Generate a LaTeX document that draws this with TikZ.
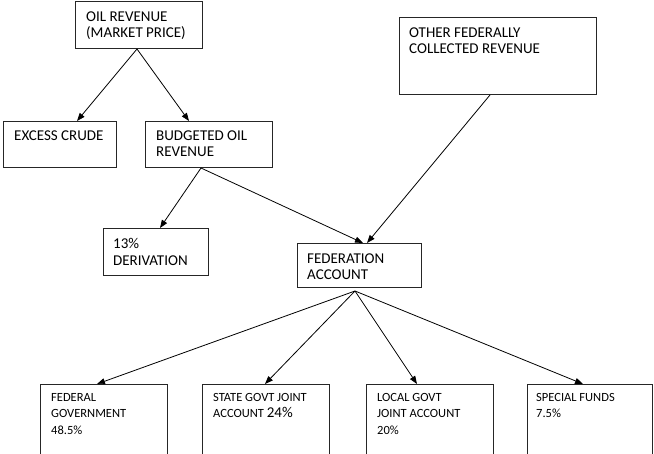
\documentclass[tikz,border=0pt]{standalone}
\usepackage{fontspec}
\setmainfont{Carlito}
\usetikzlibrary{arrows.meta,calc}
\begin{document}
\begin{tikzpicture}[x=1pt,y=-1pt,
  box/.style={draw=black!85, line width=1pt, rectangle, inner sep=0pt, anchor=north west},
  big/.style={font=\fontsize{15}{16.5}\selectfont, align=left, anchor=north west, inner sep=0pt},
  small/.style={font=\fontsize{12.5}{16.5}\selectfont, align=left, anchor=north west, inner sep=0pt},
  arr/.style={draw=black, line width=0.8pt, -{Triangle[length=8pt,width=6pt]}}]
\useasboundingbox (0,0) rectangle (654,454);
\clip (0,0) rectangle (654,454);
% boxes
\node[box, minimum width=127pt, minimum height=47pt] (oil) at (75,1) {};
\node[box, minimum width=113pt, minimum height=46pt] (excess) at (3,121) {};
\node[box, minimum width=127pt, minimum height=46pt] (budget) at (145,121) {};
\node[box, minimum width=197pt, minimum height=77pt] (other) at (399,17) {};
\node[box, minimum width=105pt, minimum height=47pt] (deriv) at (103,228) {};
\node[box, minimum width=124pt, minimum height=44pt] (fedacc) at (297,243) {};
\node[box, minimum width=127pt, minimum height=100pt] (fedgov) at (40,384) {};
\node[box, minimum width=127pt, minimum height=100pt] (state) at (202,384) {};
\node[box, minimum width=127pt, minimum height=100pt] (local) at (366,384) {};
\node[box, minimum width=125pt, minimum height=100pt] (special) at (527,384) {};
% texts
\node[big] (oiltxt) at ($(oil.north west)+(11,10.3)$) {OIL REVENUE\\(MARKET PRICE)};
\node[big] (excesstxt) at ($(excess.north west)+(11,9.3)$) {EXCESS CRUDE};
\node[big] (budgettxt) at ($(budget.north west)+(11,9.3)$) {BUDGETED OIL\\REVENUE};
\node[big] (othertxt) at ($(other.north west)+(10,10.3)$) {OTHER FEDERALLY\\COLLECTED REVENUE};
\node[big] (derivtxt) at ($(deriv.north west)+(10,10.3)$) {13\%\\DERIVATION};
\node[big] (fedacctxt) at ($(fedacc.north west)+(10,10.3)$) {FEDERATION\\ACCOUNT};
\node[small] (fedgovtxt) at ($(fedgov.north west)+(11,9)$) {FEDERAL\\GOVERNMENT\\48.5\%};
\node[small] (statetxt) at ($(state.north west)+(11,9)$) {STATE GOVT JOINT\\ACCOUNT {\fontsize{15}{16.5}\selectfont 24\%}};
\node[small] (localtxt) at ($(local.north west)+(11,9)$) {LOCAL GOVT\\JOINT ACCOUNT\\20\%};
\node[small] (specialtxt) at ($(special.north west)+(9,9)$) {SPECIAL FUNDS\\7.5\%};
% connectors
\draw[arr] ($(oil.south west)+(62,0)$) -- ($(excess.north west)+(74,0)$);
\draw[arr] ($(oil.south west)+(62,0)$) -- ($(budget.north west)+(44,0)$);
\draw[arr] ($(budget.south west)+(56,0)$) -- ($(deriv.north west)+(57,0)$);
\draw[arr] ($(budget.south west)+(56,0)$) -- ($(fedacc.north west)+(66,0)$);
\draw[arr] ($(other.south west)+(91,0)$) -- ($(fedacc.north west)+(70,0)$);
\draw[arr] ($(fedacc.south west)+(58,3)$) -- ($(fedgov.north west)+(57,0)$);
\draw[arr] ($(fedacc.south west)+(58,3)$) -- ($(state.north west)+(63,0)$);
\draw[arr] ($(fedacc.south west)+(58,3)$) -- ($(local.north west)+(51,0)$);
\draw[arr] ($(fedacc.south west)+(58,3)$) -- ($(special.north west)+(56,0)$);
\end{tikzpicture}
\end{document}
